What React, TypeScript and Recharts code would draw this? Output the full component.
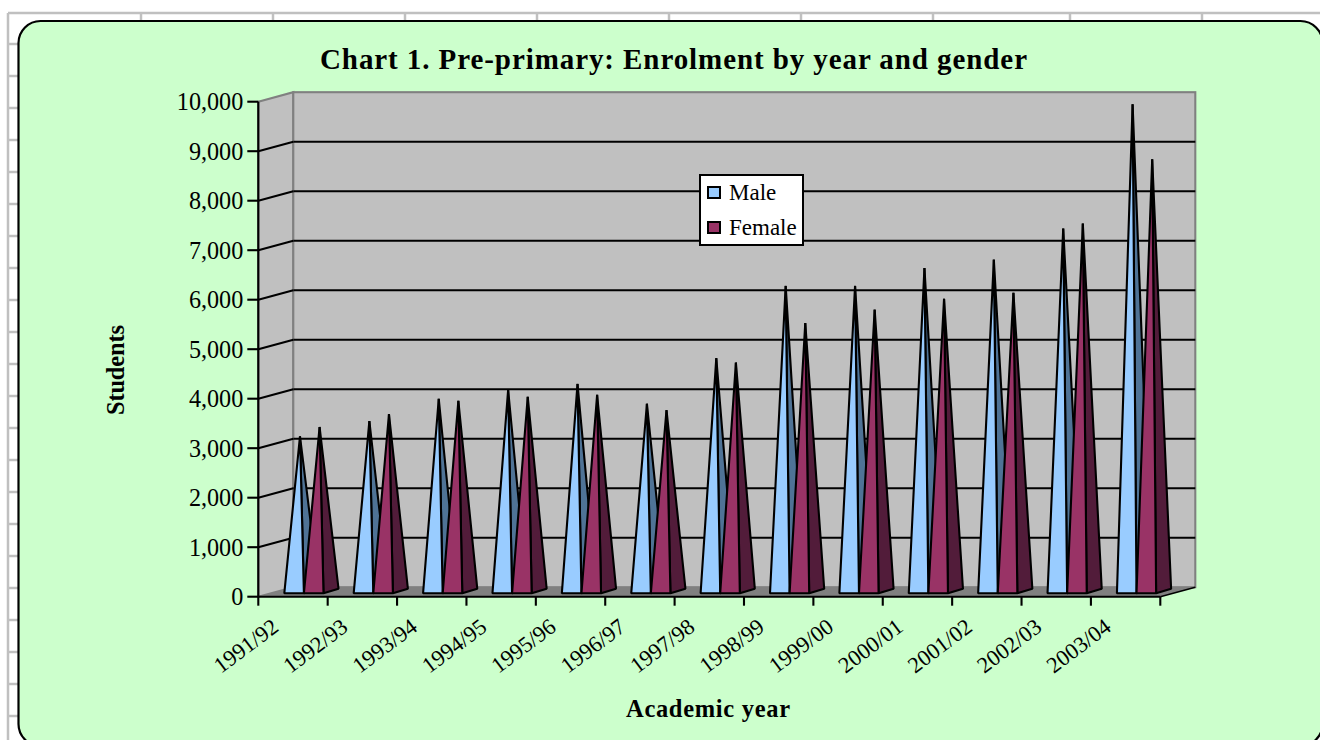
import { BarChart, Bar, XAxis, YAxis, CartesianGrid, Legend } from 'recharts';

const years = ['1991/92', '1992/93', '1993/94', '1994/95', '1995/96', '1996/97', '1997/98', '1998/99', '1999/00', '2000/01', '2001/02', '2002/03', '2003/04'];
const male = [3170, 3480, 3930, 4110, 4230, 3830, 4750, 6210, 6210, 6570, 6740, 7370, 9880];
const female = [3360, 3620, 3890, 3970, 4010, 3700, 4660, 5460, 5730, 5950, 6070, 7470, 8770];
const yTicks = [0, 1000, 2000, 3000, 4000, 5000, 6000, 7000, 8000, 9000, 10000];

const sheetCols = [141, 273, 405, 537, 669, 801, 933, 1070, 1202];
const sheetRows = [44, 76, 108, 140, 172, 204, 236, 268, 300, 332, 364, 396, 428, 460, 492, 524, 556, 588, 620, 652, 684, 716];

const data = years.map((year, i) => ({ year, male: male[i], female: female[i] }));

const FONT = '"Liberation Serif", serif';
const WIDTH = 1320;
const HEIGHT = 740;
// plot box of the front face of the 3D frame
const LEFT = 258.3;
const RIGHT = 1160.3;
const TOP = 101.7;
const BOTTOM = 596.7;
// how far the back wall sits from the front face
const DEPTH_X = 35;
const DEPTH_Y = 9.5;
const HALF_BAND = (RIGHT - LEFT) / years.length / 2;
const INK = 2.1;

const makeCone = (sideColor: string) => (props: any) => {
  const { x, y, width, height, fill } = props;
  const left = x + 11;
  const right = left + width;
  const base = y + height - 3.4;
  const tipX = left + width * 0.8;
  const tipY = y - 3.4;
  return (
    <g stroke="#000" strokeWidth={INK} strokeLinejoin="bevel">
      <polygon points={`${right},${base} ${right + 15},${base - 4.6} ${tipX},${tipY}`} fill={sideColor} />
      <polygon points={`${left},${base} ${right},${base} ${tipX},${tipY}`} fill={fill} />
    </g>
  );
};

const GridLine = (props: any) => {
  const { x1, x2, y1, index } = props;
  if (y1 >= BOTTOM - 1 || y1 <= TOP + 1) return <g key={index} />;
  return (
    <g key={index} stroke="#000" strokeWidth={INK} fill="none">
      <line x1={x1} y1={y1} x2={x1 + DEPTH_X} y2={y1 - DEPTH_Y} />
      <line x1={x1 + DEPTH_X} y1={y1 - DEPTH_Y} x2={x2 + DEPTH_X} y2={y1 - DEPTH_Y} />
    </g>
  );
};

const YearTick = (props: any) => {
  const { x, y, payload, index } = props;
  const last = index === years.length - 1;
  return (
    <g>
      <line x1={x - HALF_BAND} y1={y - 8} x2={x - HALF_BAND} y2={y + 1} stroke="#000" strokeWidth={INK} />
      {last && <line x1={x + HALF_BAND} y1={y - 8} x2={x + HALF_BAND} y2={y + 1} stroke="#000" strokeWidth={INK} />}
      <text
        x={x - 13}
        y={y + 25}
        transform={`rotate(-37 ${x - 13} ${y + 25})`}
        textAnchor="end"
        fontFamily={FONT}
        fontSize={22.5}
        fill="#000"
      >
        {payload.value}
      </text>
    </g>
  );
};

const LegendBox = ({ payload }: any) => (
  <div
    style={{
      boxSizing: 'border-box',
      width: 105,
      height: 72,
      background: '#fff',
      border: '2px solid #000',
      fontFamily: FONT,
      fontSize: 23,
      color: '#000',
      position: 'relative',
    }}
  >
    {(payload || []).map((entry: any, i: number) => (
      <div key={entry.value} style={{ position: 'absolute', left: 6, top: 2 + i * 35, height: 30, display: 'flex', alignItems: 'center', whiteSpace: 'nowrap' }}>
        <span style={{ boxSizing: 'border-box', width: 14, height: 13, background: entry.color, border: '2px solid #000', marginRight: 8 }} />
        {entry.value}
      </div>
    ))}
  </div>
);

export default function App() {
  return (
    <div style={{ position: 'absolute', left: 0, top: 0, width: WIDTH, height: HEIGHT, overflow: 'hidden', background: '#fff' }}>
      {/* spreadsheet cells behind the chart, the panel and the 3D frame */}
      <svg width={WIDTH} height={HEIGHT} style={{ position: 'absolute', left: 0, top: 0 }}>
        <g stroke="#c0c0c0" strokeWidth={2.5}>
          <line x1={8} y1={13} x2={WIDTH} y2={13} />
          <line x1={8} y1={13} x2={8} y2={HEIGHT} />
          {sheetCols.map((c) => <line key={c} x1={c} y1={13} x2={c} y2={24} />)}
          {sheetRows.map((r) => <line key={r} x1={8} y1={r} x2={20} y2={r} />)}
        </g>
        <rect x={18.5} y={21} width={1304} height={725} rx={22} fill="#ccffcc" stroke="#000" strokeWidth={2.2} />
        <polygon points={`${LEFT},${TOP} ${LEFT + DEPTH_X},${TOP - DEPTH_Y} ${LEFT + DEPTH_X},${BOTTOM - DEPTH_Y} ${LEFT},${BOTTOM}`} fill="#c0c0c0" stroke="#808080" strokeWidth={INK} />
        <rect x={LEFT + DEPTH_X} y={TOP - DEPTH_Y} width={RIGHT - LEFT} height={BOTTOM - TOP} fill="#c0c0c0" stroke="#808080" strokeWidth={INK} />
        <polygon points={`${LEFT},${BOTTOM} ${RIGHT},${BOTTOM} ${RIGHT + DEPTH_X},${BOTTOM - DEPTH_Y} ${LEFT + DEPTH_X},${BOTTOM - DEPTH_Y}`} fill="#808080" />
        <line x1={RIGHT} y1={BOTTOM} x2={RIGHT + DEPTH_X} y2={BOTTOM - DEPTH_Y} stroke="#000" strokeWidth={1.5} />
      </svg>

      <div style={{ position: 'absolute', left: 0, top: 0 }}>
        <BarChart
          width={WIDTH}
          height={HEIGHT}
          data={data}
          barSize={19.6}
          barGap={0}
          margin={{ top: TOP, right: WIDTH - RIGHT, bottom: 0, left: 0 }}
        >
          <CartesianGrid horizontal={GridLine} vertical={false} />
          <XAxis
            dataKey="year"
            height={HEIGHT - BOTTOM}
            interval={0}
            tickLine={false}
            tick={YearTick}
            axisLine={{ stroke: '#000', strokeWidth: INK }}
          />
          <YAxis
            width={LEFT}
            domain={[0, 10000]}
            ticks={yTicks}
            interval={0}
            tickSize={11}
            tickMargin={4}
            tickFormatter={(v: number) => v.toLocaleString('en-US')}
            tick={{ fontFamily: FONT, fontSize: 24.2, fill: '#000' }}
            tickLine={{ stroke: '#000', strokeWidth: INK }}
            axisLine={{ stroke: '#000', strokeWidth: INK }}
          />
          <Bar dataKey="male" name="Male" fill="#99ccff" isAnimationActive={false} shape={makeCone('#4f7396')} />
          <Bar dataKey="female" name="Female" fill="#993366" isAnimationActive={false} shape={makeCone('#521c3a')} />
          <Legend
            layout="vertical"
            align="center"
            verticalAlign="middle"
            itemSorter={(item: any) => (item.value === 'Male' ? 0 : 1)}
            content={<LegendBox />}
            wrapperStyle={{ left: 699, top: 173.5, width: 105, height: 72 }}
          />
          <text x={320} y={69} textLength={707} lengthAdjust="spacing" fontFamily={FONT} fontSize={29} fontWeight="bold" fill="#000">
            Chart 1. Pre-primary: Enrolment by year and gender
          </text>
          <text x={626} y={716.5} textLength={164} lengthAdjust="spacing" fontFamily={FONT} fontSize={24.5} fontWeight="bold" fill="#000">
            Academic year
          </text>
          <text x={124} y={415} textLength={90} lengthAdjust="spacing" transform="rotate(-90 124 415)" fontFamily={FONT} fontSize={24.5} fontWeight="bold" fill="#000">
            Students
          </text>
        </BarChart>
      </div>
    </div>
  );
}
